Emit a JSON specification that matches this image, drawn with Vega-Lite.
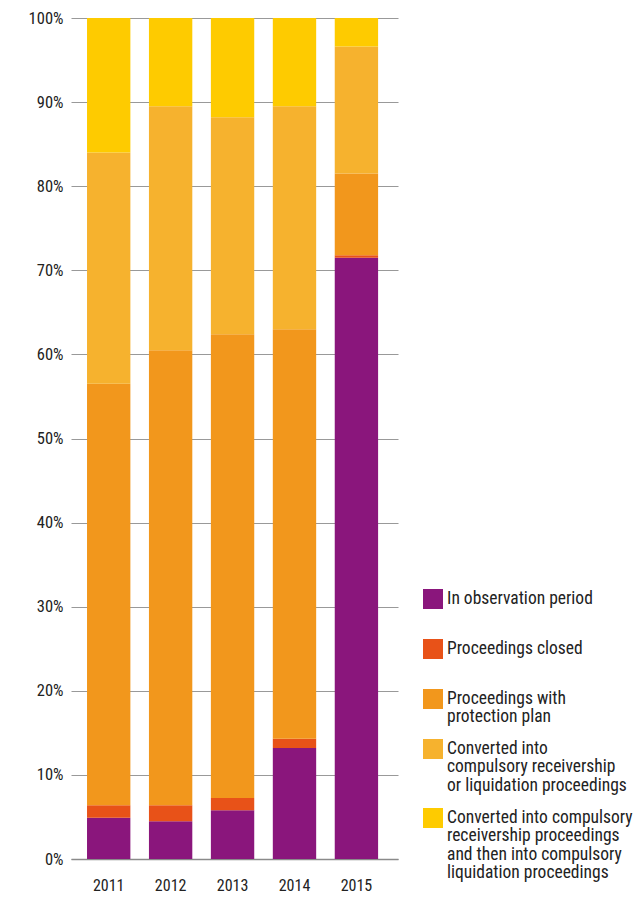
{
  "$schema": "https://vega.github.io/schema/vega-lite/v6.json",
  "width": 327,
  "height": 841,
  "autosize": {"type": "none"},
  "padding": {"left": 71, "top": 18, "right": 237, "bottom": 38},
  "background": "white",
  "data": {
    "values": [
      {"year": "2011", "cat": "In observation period", "ord": 1, "v": 4.9},
      {"year": "2011", "cat": "Proceedings closed", "ord": 2, "v": 1.5},
      {"year": "2011", "cat": "Proceedings with|protection plan", "ord": 3, "v": 50.1},
      {"year": "2011", "cat": "Converted into|compulsory receivership|or liquidation proceedings", "ord": 4, "v": 27.5},
      {"year": "2011", "cat": "Converted into compulsory|receivership proceedings|and then into compulsory|liquidation proceedings", "ord": 5, "v": 16.0},
      {"year": "2012", "cat": "In observation period", "ord": 1, "v": 4.5},
      {"year": "2012", "cat": "Proceedings closed", "ord": 2, "v": 1.9},
      {"year": "2012", "cat": "Proceedings with|protection plan", "ord": 3, "v": 54.1},
      {"year": "2012", "cat": "Converted into|compulsory receivership|or liquidation proceedings", "ord": 4, "v": 29.0},
      {"year": "2012", "cat": "Converted into compulsory|receivership proceedings|and then into compulsory|liquidation proceedings", "ord": 5, "v": 10.5},
      {"year": "2013", "cat": "In observation period", "ord": 1, "v": 5.8},
      {"year": "2013", "cat": "Proceedings closed", "ord": 2, "v": 1.45},
      {"year": "2013", "cat": "Proceedings with|protection plan", "ord": 3, "v": 55.15},
      {"year": "2013", "cat": "Converted into|compulsory receivership|or liquidation proceedings", "ord": 4, "v": 25.8},
      {"year": "2013", "cat": "Converted into compulsory|receivership proceedings|and then into compulsory|liquidation proceedings", "ord": 5, "v": 11.8},
      {"year": "2014", "cat": "In observation period", "ord": 1, "v": 13.2},
      {"year": "2014", "cat": "Proceedings closed", "ord": 2, "v": 1.1},
      {"year": "2014", "cat": "Proceedings with|protection plan", "ord": 3, "v": 48.7},
      {"year": "2014", "cat": "Converted into|compulsory receivership|or liquidation proceedings", "ord": 4, "v": 26.5},
      {"year": "2014", "cat": "Converted into compulsory|receivership proceedings|and then into compulsory|liquidation proceedings", "ord": 5, "v": 10.5},
      {"year": "2015", "cat": "In observation period", "ord": 1, "v": 71.5},
      {"year": "2015", "cat": "Proceedings closed", "ord": 2, "v": 0.3},
      {"year": "2015", "cat": "Proceedings with|protection plan", "ord": 3, "v": 9.7},
      {"year": "2015", "cat": "Converted into|compulsory receivership|or liquidation proceedings", "ord": 4, "v": 15.1},
      {"year": "2015", "cat": "Converted into compulsory|receivership proceedings|and then into compulsory|liquidation proceedings", "ord": 5, "v": 3.4}
    ]
  },
  "mark": {"type": "bar"},
  "encoding": {
    "x": {
      "field": "year",
      "type": "ordinal",
      "scale": {"paddingInner": 0.3, "paddingOuter": 0.29, "align": 0.446},
      "axis": {
        "title": null,
        "labelAngle": 0,
        "ticks": false,
        "domain": true,
        "domainColor": "#8a8a8a",
        "domainWidth": 1.5,
        "labelPadding": 18,
        "labelFontSize": 16,
        "labelColor": "#222222",
        "labelFont": "Roboto Condensed, DejaVu Sans Condensed, sans-serif"
      }
    },
    "y": {
      "field": "v",
      "type": "quantitative",
      "stack": "zero",
      "scale": {"domain": [0, 100], "nice": false},
      "axis": {
        "title": null,
        "values": [0, 10, 20, 30, 40, 50, 60, 70, 80, 90, 100],
        "labelExpr": "datum.value + '%'",
        "ticks": false,
        "domain": false,
        "labelPadding": 8,
        "gridColor": "#999999",
        "gridWidth": 1,
        "labelFontSize": 16.5,
        "labelColor": "#222222",
        "labelFont": "Roboto Condensed, DejaVu Sans Condensed, sans-serif"
      }
    },
    "order": {"field": "ord", "type": "quantitative"},
    "color": {
      "field": "cat",
      "type": "nominal",
      "scale": {
        "domain": [
          "In observation period",
          "Proceedings closed",
          "Proceedings with|protection plan",
          "Converted into|compulsory receivership|or liquidation proceedings",
          "Converted into compulsory|receivership proceedings|and then into compulsory|liquidation proceedings"
        ],
        "range": ["#8a167c", "#e85218", "#f2971c", "#f6b22e", "#fecb00"]
      },
      "legend": {
        "title": null,
        "orient": "none",
        "legendX": 352,
        "legendY": 562,
        "padding": 0,
        "symbolType": "M-1,-0.1H1V1.9H-1Z",
        "symbolSize": 400,
        "symbolStrokeWidth": 0,
        "symbolOpacity": 1,
        "labelExpr": "split(datum.label + (indexof(datum.label, '|') < 0 ? '|' : ''), '|')",
        "labelFontSize": 17.5,
        "labelColor": "#222222",
        "labelFont": "Roboto Condensed, DejaVu Sans Condensed, sans-serif",
        "labelLimit": 300,
        "labelBaseline": "top",
        "labelOffset": 4,
        "rowPadding": 4
      }
    }
  },
  "config": {"view": {"stroke": null}, "style": {"guide-label": {"lineHeight": 18.3}}}
}
